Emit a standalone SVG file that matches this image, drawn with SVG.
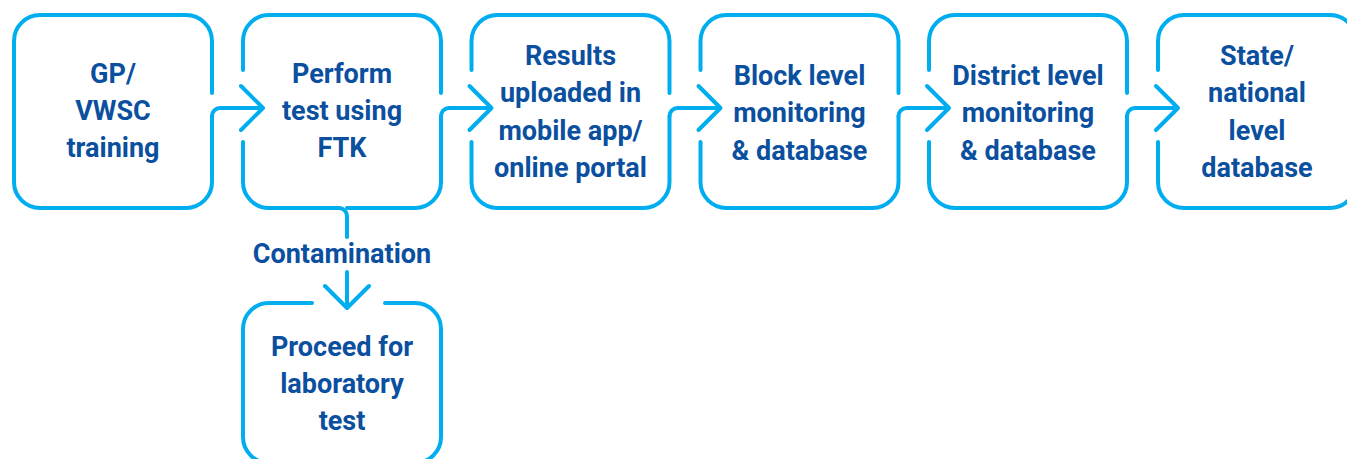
<svg xmlns="http://www.w3.org/2000/svg" width="1347" height="459" viewBox="0 0 1347 459">
<style>
.b{fill:none;stroke:#00aeef;stroke-width:4;stroke-linecap:round;stroke-linejoin:round}
.t{font-family:Roboto,"Liberation Sans",sans-serif;font-weight:700;font-size:27px;fill:#0b4f9f;text-anchor:middle}
</style>
<rect width="1347" height="459" fill="#fff"/>
<g id="n1">
<path class="b" d="M14,70 V41 A26,26 0 0 1 40,15 H186 A26,26 0 0 1 212,41 V93 M14,70 V182 A26,26 0 0 0 40,208 H186 A26,26 0 0 0 212,182 V116"/>
<text class="t" x="113" y="83">GP/</text><text class="t" x="113" y="120">VWSC</text><text class="t" x="113" y="157">training</text>
</g>
<g id="n2">
<path class="b" d="M243,70 V41 A26,26 0 0 1 269,15 H415 A26,26 0 0 1 441,41 V93 M243,142 V182 A26,26 0 0 0 269,208 H339 M347,208 H415 A26,26 0 0 0 441,182 V116"/>
<text class="t" x="342" y="83">Perform</text><text class="t" x="342" y="120">test using</text><text class="t" x="342" y="157">FTK</text>
</g>
<g id="n3">
<path class="b" d="M471.5,70 V41 A26,26 0 0 1 497.5,15 H643.5 A26,26 0 0 1 669.5,41 V93 M471.5,142 V182 A26,26 0 0 0 497.5,208 H643.5 A26,26 0 0 0 669.5,182 V116"/>
<text class="t" x="570.5" y="65">Results</text><text class="t" x="570.5" y="102">uploaded in</text><text class="t" x="570.5" y="140">mobile app/</text><text class="t" x="570.5" y="177">online portal</text>
</g>
<g id="n4">
<path class="b" d="M700.5,70 V41 A26,26 0 0 1 726.5,15 H872.5 A26,26 0 0 1 898.5,41 V93 M700.5,142 V182 A26,26 0 0 0 726.5,208 H872.5 A26,26 0 0 0 898.5,182 V116"/>
<text class="t" x="799.5" y="85">Block level</text><text class="t" x="799.5" y="122">monitoring</text><text class="t" x="799.5" y="160">&amp; database</text>
</g>
<g id="n5">
<path class="b" d="M929,70 V41 A26,26 0 0 1 955,15 H1101 A26,26 0 0 1 1127,41 V93 M929,142 V182 A26,26 0 0 0 955,208 H1101 A26,26 0 0 0 1127,182 V116"/>
<text class="t" x="1028" y="85">District level</text><text class="t" x="1028" y="122">monitoring</text><text class="t" x="1028" y="160">&amp; database</text>
</g>
<g id="n6">
<path class="b" d="M1158,70 V41 A26,26 0 0 1 1184,15 H1330 A26,26 0 0 1 1356,41 V182 A26,26 0 0 1 1330,208 H1184 A26,26 0 0 1 1158,182 V142"/>
<text class="t" x="1257" y="65">State/</text><text class="t" x="1257" y="102">national</text><text class="t" x="1257" y="140">level</text><text class="t" x="1257" y="177">database</text>
</g>
<g id="n7">
<path class="b" d="M312,303 H269 A26,26 0 0 0 243,329 V437 A26,26 0 0 0 269,463 H415 A26,26 0 0 0 441,437 V329 A26,26 0 0 0 415,303 H385"/>
<text class="t" x="342" y="356">Proceed for</text><text class="t" x="342" y="393">laboratory</text><text class="t" x="342" y="430">test</text>
</g>
<g id="connectors">
<path class="b" d="M212,116 A8,8 0 0 1 220,108 H263 M241,86 L263,108 L241,130"/>
<path class="b" d="M441,116 A8,8 0 0 1 449,108 H491.5 M469.5,86 L491.5,108 L469.5,130"/>
<path class="b" d="M669.5,116 A8,8 0 0 1 677.5,108 H720.5 M698.5,86 L720.5,108 L698.5,130"/>
<path class="b" d="M898.5,116 A8,8 0 0 1 906.5,108 H949 M927,86 L949,108 L927,130"/>
<path class="b" d="M1127,116 A8,8 0 0 1 1135,108 H1178 M1156,86 L1178,108 L1156,130"/>
<path class="b" d="M339,208 A8,8 0 0 1 347,216 V237 M347,272 V308 M325,286 L347,308 L369,286"/>
<text class="t" x="342" y="263">Contamination</text>
</g>
</svg>
